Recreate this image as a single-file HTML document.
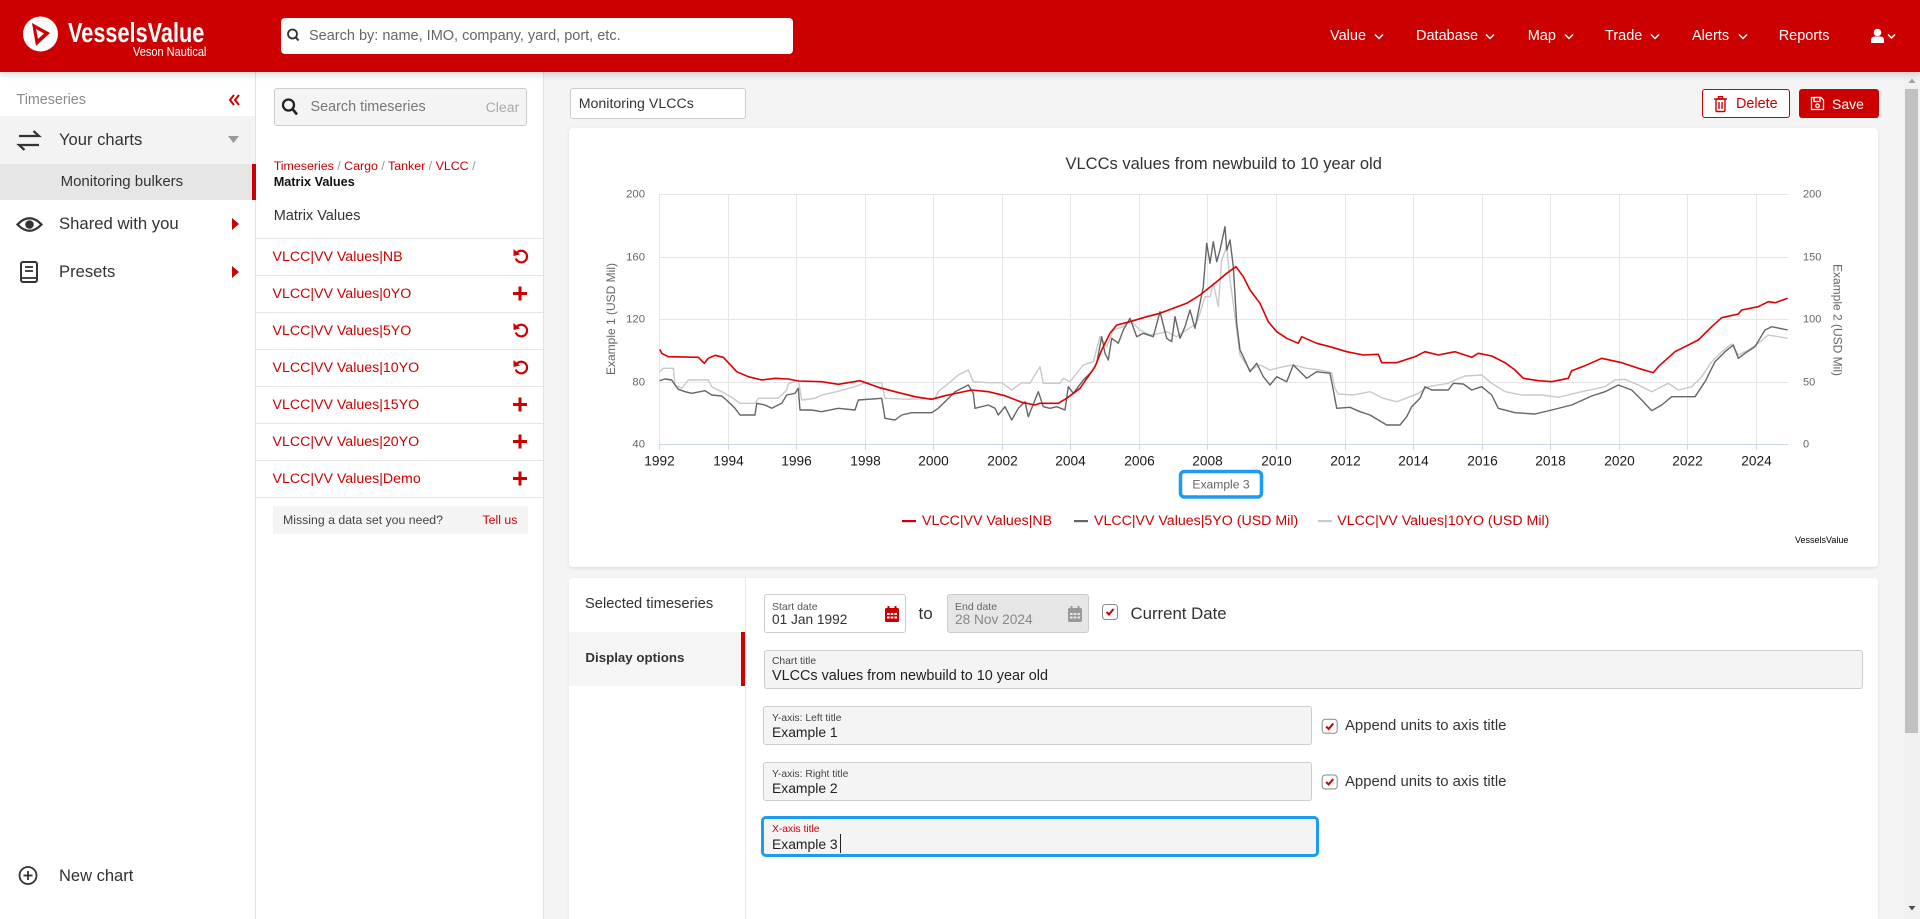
<!DOCTYPE html>
<html><head><meta charset="utf-8"><style>
*{box-sizing:border-box;margin:0;padding:0}
html,body{width:1920px;height:919px;overflow:hidden}
body{position:relative;background:#f4f4f4;font-family:"Liberation Sans",Arial,sans-serif;color:#333}
.a{position:absolute}
.t{position:absolute;white-space:nowrap;line-height:20px;height:20px}
.red{color:#cc0000}
.fld{position:absolute;border:1px solid #ccc;border-radius:3px;background:#f4f4f4}
.lbl{font-size:10.3px;color:#444}
</style></head><body>

<!-- header -->
<div class="a" style="left:0;top:0;width:1920px;height:72px;background:#cc0000;box-shadow:0 2px 7px rgba(0,0,0,.18);z-index:5">
  <svg class="a" style="left:0;top:0" width="70" height="72">
    <circle cx="40.5" cy="34" r="17.5" fill="#fff"/>
    <polygon points="32,23 50,33 36,46" fill="#cc0000"/>
    <polygon points="36,29 44,33.5 38,39" fill="#fff"/>
  </svg>
  <div class="t" style="left:68px;top:19px;font-size:28px;line-height:28px;height:28px;font-weight:bold;color:#fff;transform:scaleX(.775);transform-origin:left">VesselsValue</div>
  <div class="t" style="left:133px;top:41.5px;font-size:12.5px;color:#fff;transform:scaleX(.88);transform-origin:left">Veson Nautical</div>
  <div class="a" style="left:281px;top:18px;width:512px;height:36px;background:#fff;border-radius:4px"></div>
  <svg class="a" style="left:284px;top:26px" width="20" height="20"><circle cx="8.5" cy="8" r="4.5" fill="none" stroke="#333" stroke-width="1.8"/><line x1="11.8" y1="11.3" x2="14.5" y2="14.5" stroke="#333" stroke-width="2"/></svg>
  <div class="t" style="left:309px;top:26px;font-size:14.5px;color:#666">Search by: name, IMO, company, yard, port, etc.</div>
  <div class="t" style="left:1330px;top:26px;font-size:14.5px;color:#fff">Value</div>
  <div class="t" style="left:1416px;top:26px;font-size:14.5px;color:#fff">Database</div>
  <div class="t" style="left:1527.7px;top:26px;font-size:14.5px;color:#fff">Map</div>
  <div class="t" style="left:1605px;top:26px;font-size:14.5px;color:#fff">Trade</div>
  <div class="t" style="left:1692px;top:26px;font-size:14.5px;color:#fff">Alerts</div>
  <div class="t" style="left:1778.7px;top:26px;font-size:14.5px;color:#fff">Reports</div>
  <svg class="a" style="left:0;top:0" width="1920" height="72">
    <g fill="none" stroke="#fff" stroke-width="1.5">
      <polyline points="1375,34.5 1379,38.5 1383,34.5"/>
      <polyline points="1486,34.5 1490,38.5 1494,34.5"/>
      <polyline points="1565,34.5 1569,38.5 1573,34.5"/>
      <polyline points="1651,34.5 1655,38.5 1659,34.5"/>
      <polyline points="1739,34.5 1743,38.5 1747,34.5"/>
      <polyline points="1888,34.5 1891.5,38 1895,34.5"/>
    </g>
    <circle cx="1877.5" cy="32.5" r="3.8" fill="#fff"/>
    <path d="M1871 43 V40 Q1871 36.5 1875 36.5 H1880 Q1884 36.5 1884 40 V43 Z" fill="#fff"/>
  </svg>
</div>

<!-- left sidebar -->
<div class="a" style="left:0;top:72px;width:256px;height:847px;background:#fff;border-right:1px solid #e2e2e2"></div>
<div class="t" style="left:16.5px;top:90px;font-size:14.3px;color:#8a8a8a">Timeseries</div>
<div class="a" style="left:0;top:116px;width:255px;height:48px;background:#f3f3f3"></div>
<div class="a" style="left:0;top:164px;width:252px;height:36px;background:#e6e6e6"></div>
<div class="a" style="left:252px;top:164px;width:4px;height:36px;background:#cc0000"></div>
<div class="t" style="left:59px;top:130px;font-size:16.6px;color:#333">Your charts</div>
<div class="t" style="left:60.6px;top:172px;font-size:15px;color:#333">Monitoring bulkers</div>
<div class="t" style="left:59px;top:214px;font-size:16.7px;color:#333">Shared with you</div>
<div class="t" style="left:59px;top:262px;font-size:16.6px;color:#333">Presets</div>
<div class="t" style="left:59px;top:865.5px;font-size:16.5px;color:#333">New chart</div>
<svg class="a" style="left:0;top:0" width="256" height="919">
  <g fill="none" stroke="#cc0000" stroke-width="2"><polyline points="234,95 230,100 234,105"/><polyline points="239,95 235,100 239,105"/></g>
  <g fill="none" stroke="#333" stroke-width="2.2"><path d="M19 136 H39 L33.5 131"/><path d="M39 145 H19 L24.5 150"/></g>
  <polygon points="228,136 239,136 233.5,143" fill="#999"/>
  <path d="M17.5 224.5 Q29.5 212 41.5 224.5 Q29.5 237 17.5 224.5 Z" fill="none" stroke="#333" stroke-width="2.2"/>
  <circle cx="29.5" cy="224.5" r="4.3" fill="#333"/>
  <polygon points="232,218 239,224 232,230" fill="#cc0000"/>
  <rect x="21" y="262" width="16" height="20" rx="2" fill="none" stroke="#333" stroke-width="2"/>
  <line x1="25" y1="267" x2="33" y2="267" stroke="#333" stroke-width="1.8"/><line x1="25" y1="271" x2="33" y2="271" stroke="#333" stroke-width="1.8"/><line x1="21" y1="278" x2="37" y2="278" stroke="#333" stroke-width="1.8"/>
  <polygon points="232,266 239,272 232,278" fill="#cc0000"/>
  <circle cx="28" cy="875.5" r="8.5" fill="none" stroke="#333" stroke-width="1.8"/>
  <line x1="23.5" y1="875.5" x2="32.5" y2="875.5" stroke="#333" stroke-width="1.8"/><line x1="28" y1="871" x2="28" y2="880" stroke="#333" stroke-width="1.8"/>
</svg>

<!-- middle column -->
<div class="a" style="left:256px;top:72px;width:288px;height:847px;background:#fff;border-right:1px solid #e2e2e2"></div>
<div class="a" style="left:273.7px;top:88px;width:253px;height:38px;background:#f4f4f4;border:1px solid #ccc;border-radius:3px"></div>
<svg class="a" style="left:278px;top:96px" width="24" height="24"><circle cx="10.5" cy="9" r="5.5" fill="none" stroke="#222" stroke-width="2.3"/><line x1="14.5" y1="13" x2="19" y2="18.5" stroke="#222" stroke-width="2.6"/></svg>
<div class="t" style="left:310.5px;top:97px;font-size:14.4px;color:#777">Search timeseries</div>
<div class="t" style="left:485.6px;top:97px;font-size:14.1px;color:#aaa">Clear</div>
<div class="t" style="left:273.7px;top:155.7px;font-size:12.4px;color:#cc0000">Timeseries <span style="color:#999">/</span> Cargo <span style="color:#999">/</span> Tanker <span style="color:#999">/</span> VLCC <span style="color:#999">/</span></div>
<div class="t" style="left:273.7px;top:172px;font-size:12.7px;font-weight:bold;color:#111">Matrix Values</div>
<div class="t" style="left:273.7px;top:206px;font-size:14.5px;color:#333">Matrix Values</div>
<svg class="a" style="left:256px;top:0" width="288" height="919">
  <g stroke="#e6e6e6" stroke-width="1">
    <line x1="0" y1="238.5" x2="287" y2="238.5"/><line x1="0" y1="275.5" x2="287" y2="275.5"/><line x1="0" y1="312.5" x2="287" y2="312.5"/><line x1="0" y1="349.5" x2="287" y2="349.5"/><line x1="0" y1="386.5" x2="287" y2="386.5"/><line x1="0" y1="423.5" x2="287" y2="423.5"/><line x1="0" y1="460.5" x2="287" y2="460.5"/><line x1="0" y1="497.5" x2="287" y2="497.5"/>
  </g>
  <g fill="none" stroke="#cc0000" stroke-width="2.2">
    <path d="M260.3 253.5 A5.8 5.8 0 1 1 259.8 258.5"/>
    <path d="M260.3 327.5 A5.8 5.8 0 1 1 259.8 332.5"/>
    <path d="M260.3 364.5 A5.8 5.8 0 1 1 259.8 369.5"/>
  </g>
  <g fill="#cc0000">
    <polygon points="257.5,249 257.5,256 264,254.5"/>
    <polygon points="257.5,323 257.5,330 264,328.5"/>
    <polygon points="257.5,360 257.5,367 264,365.5"/>
    <rect x="257" y="292" width="14" height="3"/><rect x="262.5" y="286.5" width="3" height="14"/>
    <rect x="257" y="403" width="14" height="3"/><rect x="262.5" y="397.5" width="3" height="14"/>
    <rect x="257" y="440" width="14" height="3"/><rect x="262.5" y="434.5" width="3" height="14"/>
    <rect x="257" y="477" width="14" height="3"/><rect x="262.5" y="471.5" width="3" height="14"/>
  </g>
</svg>
<div class="t red" style="left:272.5px;top:246.5px;font-size:14.2px">VLCC|VV Values|NB</div>
<div class="t red" style="left:272.5px;top:283.5px;font-size:14.2px">VLCC|VV Values|0YO</div>
<div class="t red" style="left:272.5px;top:320.5px;font-size:14.2px">VLCC|VV Values|5YO</div>
<div class="t red" style="left:272.5px;top:357.5px;font-size:14.2px">VLCC|VV Values|10YO</div>
<div class="t red" style="left:272.5px;top:394.5px;font-size:14.2px">VLCC|VV Values|15YO</div>
<div class="t red" style="left:272.5px;top:431.5px;font-size:14.2px">VLCC|VV Values|20YO</div>
<div class="t red" style="left:272.5px;top:468.5px;font-size:14.2px">VLCC|VV Values|Demo</div>
<div class="a" style="left:273px;top:506px;width:255px;height:28px;background:#f4f4f4"></div>
<div class="t" style="left:283px;top:510px;font-size:12.3px;color:#444">Missing a data set you need?</div>
<div class="t red" style="left:482.5px;top:510px;font-size:12.3px">Tell us</div>

<!-- top controls -->
<div class="a" style="left:569.5px;top:88px;width:176.5px;height:31px;background:#fff;border:1px solid #ccc;border-radius:3px"></div>
<div class="t" style="left:578.7px;top:93.5px;font-size:14.2px;color:#333">Monitoring VLCCs</div>
<div class="a" style="left:1702px;top:89px;width:88px;height:29px;background:#fff;border:1px solid #cc0000;border-radius:3px"></div>
<svg class="a" style="left:1713px;top:96px" width="16" height="17"><g fill="none" stroke="#cc0000" stroke-width="1.4"><line x1="1" y1="3" x2="14" y2="3"/><rect x="5.5" y="0.7" width="4" height="2.3"/><rect x="3" y="3" width="9" height="12.5" rx="1"/><line x1="6" y1="6" x2="6" y2="13"/><line x1="9" y1="6" x2="9" y2="13"/></g></svg>
<div class="t red" style="left:1736px;top:93.5px;font-size:14.4px">Delete</div>
<div class="a" style="left:1799px;top:89px;width:79.5px;height:29px;background:#cc0000;border-radius:3px"></div>
<svg class="a" style="left:1810px;top:96px" width="15" height="15"><g fill="none" stroke="#fff" stroke-width="1.3"><path d="M1.5 1.5 H11 L13.5 4 V13.5 H1.5 Z"/><rect x="4" y="1.5" width="6" height="4"/><circle cx="7.5" cy="9.8" r="1.8"/></g></svg>
<div class="t" style="left:1832px;top:93.5px;font-size:14px;color:#fff">Save</div>

<!-- chart card -->
<div class="a" style="left:569px;top:128px;width:1309px;height:439px;background:#fff;border-radius:4px;box-shadow:0 1px 3px rgba(0,0,0,.1)"></div>
<!-- bottom card -->
<div class="a" style="left:569px;top:578px;width:1309px;height:341px;background:#fff;border-radius:4px 4px 0 0;box-shadow:0 1px 3px rgba(0,0,0,.08)"></div>
<div class="a" style="left:745px;top:578px;width:1px;height:341px;background:#e8e8e8"></div>
<div class="a" style="left:569px;top:632px;width:172px;height:54px;background:#f5f5f5"></div>
<div class="a" style="left:741px;top:632px;width:4px;height:54px;background:#cc0000"></div>
<div class="t" style="left:585px;top:594px;font-size:14.7px;color:#333">Selected timeseries</div>
<div class="t" style="left:585.4px;top:648px;font-size:13.3px;font-weight:bold;color:#333">Display options</div>

<!-- dates -->
<div class="a" style="left:763.6px;top:594.3px;width:142.8px;height:39px;background:#fff;border:1px solid #ccc;border-radius:3px"></div>
<div class="t lbl" style="left:772px;top:596.7px;font-size:10.5px;color:#555">Start date</div>
<div class="t" style="left:772px;top:610px;font-size:13.7px;color:#333">01 Jan 1992</div>
<div class="t" style="left:918.5px;top:604px;font-size:17px;color:#333">to</div>
<div class="a" style="left:946.6px;top:594.3px;width:142.9px;height:39px;background:#e6e6e6;border:1px solid #ccc;border-radius:3px"></div>
<div class="t" style="left:955px;top:596.7px;font-size:10.5px;color:#666">End date</div>
<div class="t" style="left:955px;top:610px;font-size:13.7px;color:#888">28 Nov 2024</div>
<svg class="a" style="left:0;top:0;overflow:visible" width="1" height="1">
  <g transform="translate(885,606)">
    <rect x="0" y="2" width="14" height="14" rx="1.5" fill="#cc0000"/><rect x="2.5" y="0" width="2" height="4" fill="#cc0000"/><rect x="9.5" y="0" width="2" height="4" fill="#cc0000"/>
    <g fill="#fff"><rect x="2" y="7" width="2.6" height="2"/><rect x="5.7" y="7" width="2.6" height="2"/><rect x="9.4" y="7" width="2.6" height="2"/><rect x="2" y="10.5" width="2.6" height="2"/><rect x="5.7" y="10.5" width="2.6" height="2"/><rect x="9.4" y="10.5" width="2.6" height="2"/></g>
  </g>
  <g transform="translate(1068,606)">
    <rect x="0" y="2" width="14" height="14" rx="1.5" fill="#999"/><rect x="2.5" y="0" width="2" height="4" fill="#999"/><rect x="9.5" y="0" width="2" height="4" fill="#999"/>
    <g fill="#e6e6e6"><rect x="2" y="7" width="2.6" height="2"/><rect x="5.7" y="7" width="2.6" height="2"/><rect x="9.4" y="7" width="2.6" height="2"/><rect x="2" y="10.5" width="2.6" height="2"/><rect x="5.7" y="10.5" width="2.6" height="2"/><rect x="9.4" y="10.5" width="2.6" height="2"/></g>
  </g>
  <g fill="#fff" stroke="#888" stroke-width="1"><rect x="1102.5" y="604.5" width="15" height="15" rx="3"/><rect x="1322.2" y="719.3" width="15" height="14" rx="3"/><rect x="1322.2" y="775" width="15" height="14" rx="3"/></g>
  <g fill="none" stroke="#cc0000" stroke-width="2"><polyline points="1106.5,612 1109,614.5 1113.5,609"/><polyline points="1326.2,726.5 1328.7,729 1333.2,723.5"/><polyline points="1326.2,782 1328.7,784.5 1333.2,779"/></g>
</svg>
<div class="t" style="left:1130.5px;top:604px;font-size:16.8px;color:#333">Current Date</div>

<!-- fields -->
<div class="fld" style="left:763.6px;top:650px;width:1099px;height:39px"></div>
<div class="t lbl" style="left:772px;top:652px">Chart title</div>
<div class="t" style="left:772px;top:666px;font-size:14.4px;color:#222">VLCCs values from newbuild to 10 year old</div>
<div class="fld" style="left:763.4px;top:706px;width:549px;height:39px"></div>
<div class="t lbl" style="left:772px;top:708.7px">Y-axis: Left title</div>
<div class="t" style="left:772px;top:722px;font-size:13.9px;color:#222">Example 1</div>
<div class="t" style="left:1345px;top:716px;font-size:14.9px;color:#333">Append units to axis title</div>
<div class="fld" style="left:763.4px;top:762px;width:549px;height:39px"></div>
<div class="t lbl" style="left:772px;top:764.7px">Y-axis: Right title</div>
<div class="t" style="left:772px;top:778px;font-size:13.9px;color:#222">Example 2</div>
<div class="t" style="left:1345px;top:771.5px;font-size:14.9px;color:#333">Append units to axis title</div>
<div class="a" style="left:760.7px;top:816px;width:558px;height:41px;border:3.5px solid #1b9cf2;border-radius:5px;background:#f4f4f4"></div>
<div class="t lbl" style="left:772px;top:820px;color:#cc0000">X-axis title</div>
<div class="t" style="left:772px;top:834px;font-size:13.9px;color:#222">Example 3</div>
<div class="a" style="left:839.5px;top:834px;width:1px;height:19px;background:#222"></div>

<!-- scrollbar -->
<div class="a" style="left:1904px;top:72px;width:16px;height:847px;background:#f1f1f1"></div>
<div class="a" style="left:1905.3px;top:89px;width:12.7px;height:644px;background:#c1c1c1"></div>
<svg class="a" style="left:1904px;top:72px" width="16" height="847"><polygon points="4.5,11 8,6.5 11.5,11" fill="#a3a3a3"/><polygon points="4.5,834 8,838.5 11.5,834" fill="#505050"/></svg>

<!-- chart -->
<svg class="a" style="left:0;top:0" width="1920" height="919" font-family="Liberation Sans, Arial, sans-serif">
  <text x="1223.7" y="164" text-anchor="middle" dominant-baseline="central" font-size="16.5" fill="#333">VLCCs values from newbuild to 10 year old</text>
  <g stroke="#e6e6e6" stroke-width="1">
    <line x1="659" y1="194.5" x2="1788" y2="194.5"/><line x1="659" y1="257.5" x2="1788" y2="257.5"/><line x1="659" y1="319.5" x2="1788" y2="319.5"/><line x1="659" y1="382.5" x2="1788" y2="382.5"/>
    <line x1="659.5" y1="194.5" x2="659.5" y2="444"/><line x1="728.5" y1="194.5" x2="728.5" y2="444"/><line x1="796.5" y1="194.5" x2="796.5" y2="444"/><line x1="865.5" y1="194.5" x2="865.5" y2="444"/><line x1="933.5" y1="194.5" x2="933.5" y2="444"/><line x1="1002.5" y1="194.5" x2="1002.5" y2="444"/><line x1="1070.5" y1="194.5" x2="1070.5" y2="444"/><line x1="1139.5" y1="194.5" x2="1139.5" y2="444"/><line x1="1207.5" y1="194.5" x2="1207.5" y2="444"/><line x1="1276.5" y1="194.5" x2="1276.5" y2="444"/><line x1="1345.5" y1="194.5" x2="1345.5" y2="444"/><line x1="1413.5" y1="194.5" x2="1413.5" y2="444"/><line x1="1482.5" y1="194.5" x2="1482.5" y2="444"/><line x1="1550.5" y1="194.5" x2="1550.5" y2="444"/><line x1="1619.5" y1="194.5" x2="1619.5" y2="444"/><line x1="1687.5" y1="194.5" x2="1687.5" y2="444"/><line x1="1756.5" y1="194.5" x2="1756.5" y2="444"/>
  </g>
  <g stroke="#ccd6eb" stroke-width="1">
    <line x1="659" y1="444.5" x2="1788" y2="444.5"/>
    <line x1="659.5" y1="444.5" x2="659.5" y2="450"/><line x1="728.5" y1="444.5" x2="728.5" y2="450"/><line x1="796.5" y1="444.5" x2="796.5" y2="450"/><line x1="865.5" y1="444.5" x2="865.5" y2="450"/><line x1="933.5" y1="444.5" x2="933.5" y2="450"/><line x1="1002.5" y1="444.5" x2="1002.5" y2="450"/><line x1="1070.5" y1="444.5" x2="1070.5" y2="450"/><line x1="1139.5" y1="444.5" x2="1139.5" y2="450"/><line x1="1207.5" y1="444.5" x2="1207.5" y2="450"/><line x1="1276.5" y1="444.5" x2="1276.5" y2="450"/><line x1="1345.5" y1="444.5" x2="1345.5" y2="450"/><line x1="1413.5" y1="444.5" x2="1413.5" y2="450"/><line x1="1482.5" y1="444.5" x2="1482.5" y2="450"/><line x1="1550.5" y1="444.5" x2="1550.5" y2="450"/><line x1="1619.5" y1="444.5" x2="1619.5" y2="450"/><line x1="1687.5" y1="444.5" x2="1687.5" y2="450"/><line x1="1756.5" y1="444.5" x2="1756.5" y2="450"/>
  </g>
  <g font-size="11.3" fill="#666" text-anchor="end" dominant-baseline="central">
    <text x="645" y="194.5">200</text><text x="645" y="257.5">160</text><text x="645" y="319.5">120</text><text x="645" y="382.5">80</text><text x="645" y="444.5">40</text>
  </g>
  <g font-size="11" fill="#666" dominant-baseline="central">
    <text x="1803" y="194.5">200</text><text x="1803" y="257.5">150</text><text x="1803" y="319.5">100</text><text x="1803" y="382.5">50</text><text x="1803" y="444.5">0</text>
  </g>
  <g font-size="13.7" fill="#1a1a1a" text-anchor="middle" dominant-baseline="central">
    <text x="659.5" y="461">1992</text><text x="728.5" y="461">1994</text><text x="796.5" y="461">1996</text><text x="865.5" y="461">1998</text><text x="933.5" y="461">2000</text><text x="1002.5" y="461">2002</text><text x="1070.5" y="461">2004</text><text x="1139.5" y="461">2006</text><text x="1207.5" y="461">2008</text><text x="1276.5" y="461">2010</text><text x="1345.5" y="461">2012</text><text x="1413.5" y="461">2014</text><text x="1482.5" y="461">2016</text><text x="1550.5" y="461">2018</text><text x="1619.5" y="461">2020</text><text x="1687.5" y="461">2022</text><text x="1756.5" y="461">2024</text>
  </g>
  <text x="611" y="319" transform="rotate(-90 611 319)" text-anchor="middle" dominant-baseline="central" font-size="12" fill="#666">Example 1 (USD Mil)</text>
  <text x="1837.5" y="320" transform="rotate(90 1837.5 320)" text-anchor="middle" dominant-baseline="central" font-size="12" fill="#666">Example 2 (USD Mil)</text>

  <g fill="none" stroke-linejoin="round">
  <polyline stroke="#c9c9c9" stroke-width="1.4" points="659.7,371.7 663.3,368.3 673.3,368.3 675,385 681.7,388.3 688.3,380 708.3,380 711.7,386.7 721.7,391.7 731.7,397.3 740,403.3 755,403.3 758.3,398.3 778.3,398.3 786.7,390 788.3,384 798.3,380 801.7,400 815,398.3 821.7,395 836.7,391.7 855,386.7 865,382.7 881.7,382.7 885,398.3 908.3,399.3 935,398.3 938.3,391.7 951.7,380.7 958.3,375 968.3,370 973.3,381.7 988.3,382.7 1001.7,382.7 1011.7,390 1021.7,382.7 1030,383.3 1040,366.7 1043.3,383.3 1060,383.3 1063.3,378.3 1070,381.7 1083.3,365 1093.3,361.7 1100,336.7 1106.7,346.7 1113.3,330 1123.3,326.7 1130,320 1140,330 1150,335 1160,333.3 1166.7,331.7 1176.7,336.7 1186.7,330 1196.7,323.3 1200,313.3 1205,296.7 1210,296.7 1213.3,283.3 1218.3,306.7 1221.7,260 1226.7,246.7 1230,280 1233.3,303.3 1236.7,330 1240,355 1250,370 1260,365 1270,370 1283.3,366.7 1293.3,365 1306.7,368.3 1320,370 1331.7,372.7 1335,388.3 1338.3,394 1353.3,395 1370,391.7 1383.3,398.3 1396.7,401.7 1410,396.7 1418.3,393.3 1428.3,386.7 1448.3,383.3 1456.7,379.3 1465,376 1481.7,375 1491.7,383.3 1505,391.7 1521.7,395 1541.7,395 1558.3,397.3 1581.7,391.7 1605,386.7 1615,380 1625,379.3 1638.3,385 1651.7,391.7 1668.3,383.3 1678.3,390 1691.7,386.7 1701.7,376.7 1711.7,361.7 1721.7,351.7 1731.7,344 1738.3,355 1748.3,350 1758.3,343.3 1768.3,335 1787.7,338.3"/>
  <polyline stroke="#666" stroke-width="1.4" points="659.7,380.7 665,379 671.7,380 675,385 678.3,389.3 685,391.7 691.7,393.3 705,390.7 711.7,395 721.7,396 728.3,401.7 735,408.3 740,415 755,415 756.7,403.3 765,405 771.7,408.3 781.7,403.3 786.7,395 795,393.3 798.3,388.3 800,410 811.7,410 821.7,411.7 838.3,408.3 855,410 858.3,400 881.7,398.3 885,418.3 895,420 901.7,415 911.7,412.7 931.7,412.7 938.3,408.3 945,401.7 955,391.7 968.3,385 973.3,393.3 975,408.3 988.3,405 995,408.3 998.3,415 1005,406.7 1011.7,420 1018.3,408.3 1025,401.7 1028.3,416.7 1035,400 1038.3,391.7 1043.3,406.7 1050,408.3 1056.7,406.7 1065,410 1068.3,386.7 1073.3,393.3 1083.3,380 1091.7,371.7 1096.7,363.3 1101.7,336.7 1105,353.3 1108.3,360 1111.7,338.3 1118.3,343.3 1123.3,330 1130,318.3 1136.7,336.7 1143.3,333.3 1153.3,336.7 1160,311.7 1166.7,338.3 1171.7,341.7 1175,316.7 1180,338.3 1185,326.7 1190,310 1195,328.3 1200,303.3 1203.3,286.7 1206.7,243.3 1210,263.3 1213.3,241.7 1216.7,261.7 1220,250 1225,226.7 1226.7,250 1230,240 1233.3,266.7 1236.7,323.3 1240,350 1243.3,356.7 1250,371.7 1256.7,363.3 1263.3,376.7 1270,385 1276.7,376.7 1286.7,381.7 1293.3,365 1306.7,378.3 1316.7,371.7 1330,373.3 1333.3,390 1336.7,408.3 1350,407.3 1360,411.7 1370,415 1386.7,425 1400,425 1406.7,416.7 1411.7,406.7 1420,398.3 1425,386.7 1431.7,390 1448.3,390 1453.3,383.3 1463.3,384 1471.7,390 1481.7,386.7 1491.7,395 1498.3,408.3 1515,412.7 1535,414 1551.7,410 1571.7,405 1591.7,396 1605,391.7 1618.3,385 1631.7,390 1641.7,400 1651.7,410.7 1661.7,405 1671.7,396.7 1681.7,396.7 1695,396.7 1705,381.7 1715,361.7 1725,351.7 1733.3,345 1738.3,358.3 1745,353.3 1755,346.7 1765,330 1771.7,326.7 1787.7,330"/>
  <polyline stroke="#dd0000" stroke-width="1.6" points="659.7,349.3 661.7,353.3 668.3,356.7 698.3,357.3 704.3,363.3 708.3,358.3 715,355.3 723.3,357.3 736.7,371.7 748.3,376.7 761.7,380 775,378.3 788.3,379 798.3,381 821.7,381.7 838.3,384.3 860,380.7 878.3,387.3 895,391.7 915,396.7 931.7,399.3 945,395.7 971.7,390 988.3,391.7 1005,395.7 1021.7,402.3 1035,405 1040,403.3 1058.3,403.3 1066.7,398.3 1080,388.3 1095,366.7 1101.7,350 1110,333.3 1116.7,325 1130,321.7 1146.7,316.7 1160,313.3 1173.3,308.3 1186.7,303.3 1200,295 1216.7,281.7 1226.7,273.3 1236,266.7 1243.3,276.7 1250,290 1260,303.3 1268.3,321.7 1276.7,331.7 1286.7,338.3 1298.3,343.3 1301.7,336.7 1316.7,343.3 1330,346.7 1346.7,351.7 1363.3,355 1378.3,354.3 1381.7,362.7 1396.7,362.7 1410,358.3 1415,356.7 1425,351.7 1438.3,355 1455,351.7 1471.7,357.3 1478.3,353.3 1491.7,356 1505,362.7 1515,370 1523.3,378.3 1538.3,380.7 1551.7,381.7 1568.3,378.3 1571.7,370.7 1585,365.7 1601.7,358.3 1621.7,362.7 1638.3,368.3 1653.3,372.7 1658.3,366.7 1675,351.7 1698.3,340 1711.7,326.7 1721.7,317.7 1738.3,314 1741.7,310 1758.3,306.7 1768.3,301.7 1775,302.7 1787.7,298.3"/>
  </g>

  <rect x="1180.5" y="471.5" width="81" height="25.5" rx="4" fill="#fff" stroke="#1b9cf2" stroke-width="3.5"/>
  <text x="1221" y="484.5" text-anchor="middle" dominant-baseline="central" font-size="12.1" fill="#666">Example 3</text>

  <rect x="902" y="520" width="14" height="2.2" fill="#cc0000"/>
  <rect x="1074" y="520" width="14" height="2.2" fill="#666"/>
  <rect x="1318" y="520" width="14" height="2.2" fill="#c9c9c9"/>
  <g font-size="14.2" fill="#cc0000" dominant-baseline="central">
    <text x="922" y="521">VLCC|VV Values|NB</text>
    <text x="1094" y="521">VLCC|VV Values|5YO (USD Mil)</text>
    <text x="1337.3" y="521">VLCC|VV Values|10YO (USD Mil)</text>
  </g>
  <text x="1795" y="540" dominant-baseline="central" font-size="9" fill="#000">VesselsValue</text>
</svg>
</body></html>
